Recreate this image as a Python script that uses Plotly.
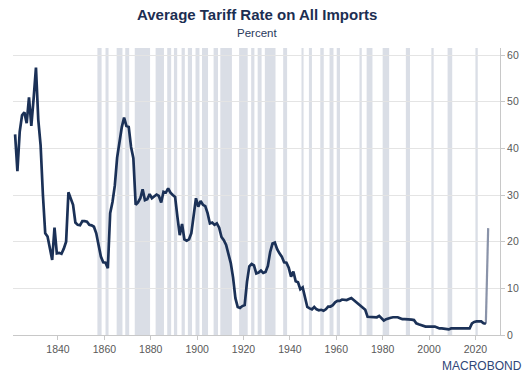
import plotly.graph_objects as go

# Annual average tariff rate on all imports (percent)
years = [1821, 1822, 1823, 1824, 1825, 1826, 1827, 1828, 1829, 1830,
         1831, 1832, 1833, 1834, 1835, 1836, 1837, 1838, 1839, 1840,
         1841, 1842, 1843, 1844, 1845, 1846, 1847, 1848, 1849, 1850,
         1851, 1852, 1853, 1854, 1855, 1856, 1857, 1858, 1859, 1860,
         1861, 1862, 1863, 1864, 1865, 1866, 1867, 1868, 1869, 1870,
         1871, 1872, 1873, 1874, 1875, 1876, 1877, 1878, 1879, 1880,
         1881, 1882, 1883, 1884, 1885, 1886, 1887, 1888, 1889, 1890,
         1891, 1892, 1893, 1894, 1895, 1896, 1897, 1898, 1899, 1900,
         1901, 1902, 1903, 1904, 1905, 1906, 1907, 1908, 1909, 1910,
         1911, 1912, 1913, 1914, 1915, 1916, 1917, 1918, 1919, 1920,
         1921, 1922, 1923, 1924, 1925, 1926, 1927, 1928, 1929, 1930,
         1931, 1932, 1933, 1934, 1935, 1936, 1937, 1938, 1939, 1940,
         1941, 1942, 1943, 1944, 1945, 1946, 1947, 1948, 1949, 1950,
         1951, 1952, 1953, 1954, 1955, 1956, 1957, 1958, 1959, 1960,
         1961, 1962, 1963, 1964, 1965, 1966, 1967, 1968, 1969, 1970,
         1971, 1972, 1973, 1974, 1975, 1976, 1977, 1978, 1979, 1980,
         1981, 1982, 1983, 1984, 1985, 1986, 1987, 1988, 1989, 1990,
         1991, 1992, 1993, 1994, 1995, 1996, 1997, 1998, 1999, 2000,
         2001, 2002, 2003, 2004, 2005, 2006, 2007, 2008, 2009, 2010,
         2011, 2012, 2013, 2014, 2015, 2016, 2017, 2018, 2019, 2020,
         2021, 2022, 2023, 2024]
tariff = [43.0, 35.1, 43.6, 47.1, 47.7, 45.4, 50.9, 44.8, 50.7, 57.3,
          46.1, 40.7, 30.0, 21.8, 21.1, 18.9, 16.1, 23.0, 17.5, 17.6,
          17.4, 18.5, 20.0, 30.6, 29.3, 27.9, 24.1, 23.6, 23.5, 24.4,
          24.4, 24.3, 23.6, 23.5, 23.2, 21.8, 19.3, 16.8, 15.6, 15.5,
          14.3, 26.1, 28.5, 32.0, 38.0, 41.5, 44.5, 46.6, 44.8, 44.6,
          40.3, 37.9, 27.9, 28.4, 29.3, 31.2, 28.9, 29.1, 30.2, 29.3,
          29.8, 30.1, 29.8, 28.4, 30.7, 30.5, 31.4, 30.5, 30.0, 29.6,
          25.3, 21.4, 23.8, 20.5, 20.2, 20.5, 21.8, 25.3, 29.3, 27.5,
          28.7, 27.9, 27.6, 26.1, 23.9, 24.1, 23.6, 23.9, 23.0, 21.0,
          20.3, 19.3, 17.6, 15.4, 12.3, 7.9, 6.0, 5.8, 6.2, 6.4,
          11.4, 14.7, 15.2, 14.9, 13.2, 13.4, 13.8, 13.3, 13.5, 14.8,
          17.8, 19.6, 19.8, 18.4, 17.5, 16.8, 15.6, 15.5, 14.4, 12.5,
          13.6, 11.5, 11.3, 9.8, 10.2, 7.9, 6.0, 5.7, 5.5, 6.0,
          5.5, 5.3, 5.4, 5.2, 5.5, 6.1, 6.1, 6.4, 7.0, 7.3,
          7.3, 7.6, 7.5, 7.5, 7.7, 7.9, 7.5, 7.1, 6.6, 6.1,
          5.8, 5.4, 3.9, 3.9, 3.9, 3.8, 3.8, 4.1, 3.6, 3.1,
          3.4, 3.6, 3.7, 3.8, 3.8, 3.8, 3.6, 3.4, 3.4, 3.4,
          3.4, 3.3, 3.2, 2.5, 2.3, 2.1, 2.0, 1.8, 1.8, 1.8,
          1.8, 1.8, 1.6, 1.4, 1.4, 1.3, 1.3, 1.2, 1.4, 1.4,
          1.3, 1.3, 1.4, 1.4, 1.4, 1.4, 1.4, 2.5, 2.8, 2.9,
          2.9, 2.9, 2.5, 2.4]

# Latest estimate (projection segment)
proj_years = [2024, 2025]
proj_tariff = [2.4, 22.9]

# Recession periods (shaded bands), in fractional years
rec_start = [1857.0, 1860.5, 1865.3, 1869.0, 1873.1, 1882.1, 1887.1, 1890.0,
             1893.3, 1896.0, 1899.3, 1902.1, 1907.1, 1910.0, 1918.1, 1923.3,
             1926.1, 1929.2, 1937.1, 1945.0, 1948.2, 1953.1, 1957.1, 1960.2,
             1970.0, 1973.1, 1980.0, 1990.0, 2001.0, 2008.0, 2020.0]
rec_end = [1858.8, 1861.8, 1867.8, 1870.7, 1879.7, 1885.7, 1888.8, 1891.4,
           1894.7, 1897.8, 1901.0, 1904.7, 1909.0, 1915.0, 1921.8, 1924.7,
           1927.8, 1933.8, 1938.8, 1945.9, 1949.5, 1954.6, 1958.8, 1961.6,
           1971.0, 1975.6, 1982.8, 1991.8, 2002.0, 2010.0, 2021.0]

x_ticks = [1840, 1860, 1880, 1900, 1920, 1940, 1960, 1980, 2000, 2020]
y_ticks = [0, 10, 20, 30, 40, 50, 60]

NAVY = "#1b3157"

# annual observations drawn at mid-year
x_main = [y + 0.5 for y in years]
x_proj = [y + 0.5 for y in proj_years]

fig = go.Figure()

for s, e in zip(rec_start, rec_end):
    fig.add_vrect(x0=s, x1=e, fillcolor="#dadee6", opacity=1,
                  line_width=0, layer="below")

fig.add_trace(go.Scatter(x=x_proj, y=proj_tariff, mode="lines",
                         line=dict(color="#8a93a9", width=2.2),
                         hoverinfo="skip", showlegend=False))
fig.add_trace(go.Scatter(x=x_main, y=tariff, mode="lines",
                         line=dict(color=NAVY, width=2.7),
                         showlegend=False))

fig.update_layout(
    width=531, height=381,
    margin=dict(l=13, r=28, t=48, b=46),
    paper_bgcolor="white", plot_bgcolor="white",
    font=dict(family="Liberation Sans, Arial, sans-serif", color="#595959"),
    annotations=[
        dict(text="<b>Average Tariff Rate on All Imports</b>", xref="paper",
             yref="paper", x=0.5, y=1.115, xanchor="center", yanchor="middle",
             showarrow=False, font=dict(size=15, color="#1c2e52")),
        dict(text="Percent", xref="paper", yref="paper", x=0.5, y=1.052,
             xanchor="center", yanchor="middle", showarrow=False,
             font=dict(size=11.5, color="#2a3a5c")),
        dict(text="MACROBOND", xref="paper", yref="paper", x=0.963, y=-0.108,
             xanchor="center", yanchor="middle", showarrow=False,
             font=dict(size=12, color="#2f4677")),
    ],
)
fig.update_xaxes(range=[1820.6, 2030.6], tickvals=x_ticks,
                 showgrid=False, zeroline=False,
                 showline=True, linecolor="#c8c8c8", linewidth=1,
                 ticks="outside", ticklen=4, tickcolor="#c8c8c8",
                 tickfont=dict(size=10.5, color="#595959"))
fig.update_yaxes(range=[0, 61.5], tickvals=y_ticks, side="right",
                 showgrid=True, gridcolor="#e4e4e4", gridwidth=1,
                 zeroline=False, showline=True, linecolor="#c8c8c8",
                 linewidth=1, ticks="outside", ticklen=4, tickcolor="#c8c8c8",
                 tickfont=dict(size=10.5, color="#595959"))

fig.write_html(
    "out.html",
    config={"displayModeBar": False},
    post_script="document.body.style.margin='0';"
                "document.body.style.overflow='hidden';",
)
